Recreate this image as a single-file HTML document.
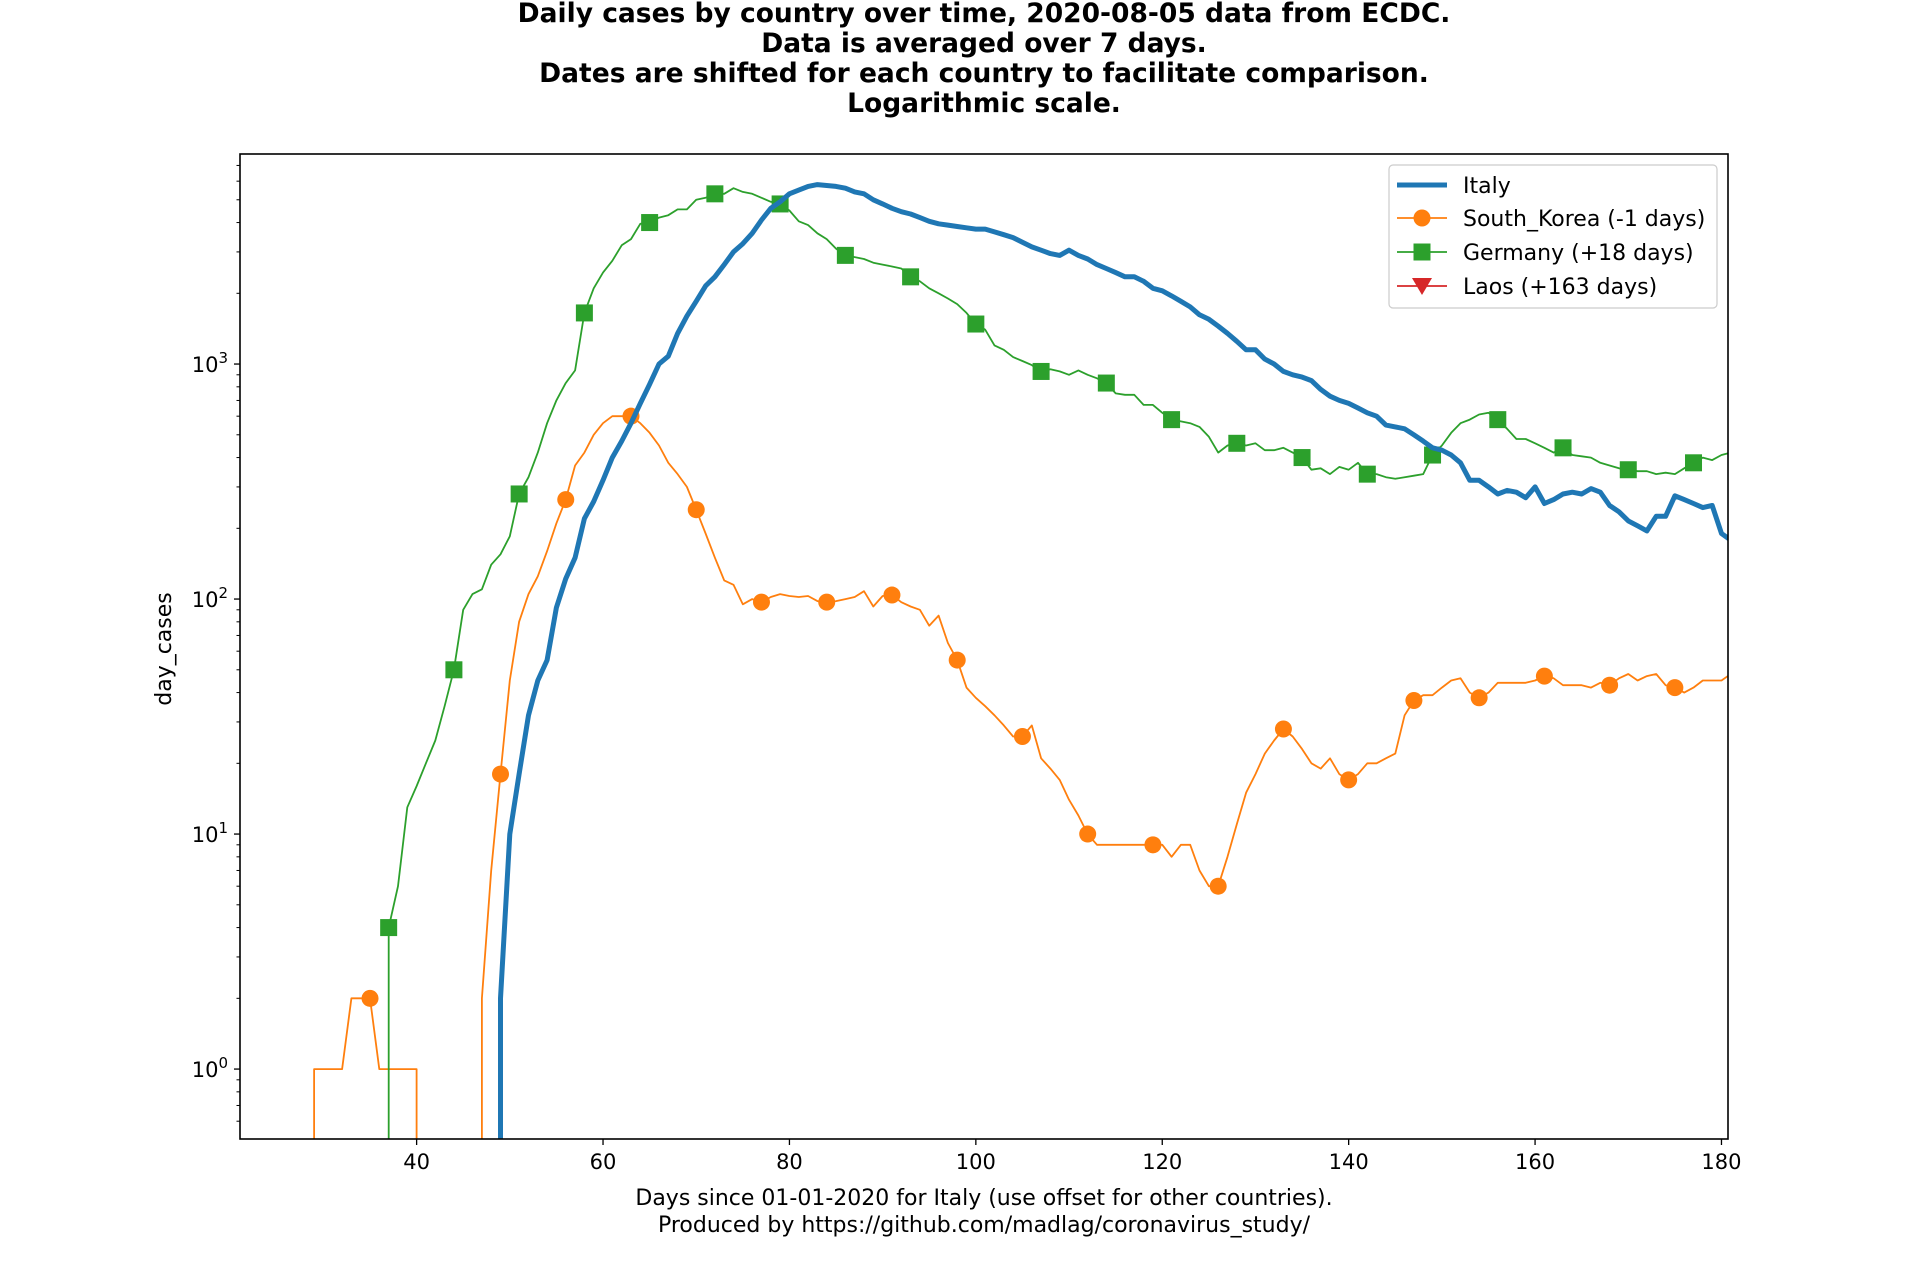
<!DOCTYPE html>
<html><head><meta charset="utf-8"><style>
html,body{margin:0;padding:0;background:#fff;width:1920px;height:1280px;overflow:hidden;}
svg{display:block;font-family:"DejaVu Sans","Liberation Sans",sans-serif;}
</style></head><body>
<svg id="chart" width="1920" height="1280" viewBox="0 0 1920 1280" xmlns="http://www.w3.org/2000/svg">
<defs><clipPath id="plotclip"><rect x="240" y="154" width="1488" height="985"/></clipPath></defs>
<g font-weight="bold" font-size="26.5" text-anchor="middle" fill="#000">
<text x="984" y="22">Daily cases by country over time, 2020-08-05 data from ECDC.</text>
<text x="984" y="52">Data is averaged over 7 days.</text>
<text x="984" y="82">Dates are shifted for each country to facilitate comparison.</text>
<text x="984" y="112">Logarithmic scale.</text>
</g>
<g id="series" clip-path="url(#plotclip)"></g>
<g id="axes"></g>
<rect x="240" y="154" width="1488" height="985" fill="none" stroke="#000" stroke-width="1.6"/>
<text x="984" y="1205" font-size="22" text-anchor="middle">Days since 01-01-2020 for Italy (use offset for other countries).</text>
<text x="984" y="1232" font-size="22" text-anchor="middle">Produced by https://github.com/madlag/coronavirus_study/</text>
<text x="0" y="0" font-size="22" text-anchor="middle" transform="translate(171,649) rotate(-90)">day_cases</text>
<g id="legend">
<rect x="1389" y="165" width="328" height="143" rx="4" fill="#fff" fill-opacity="0.8" stroke="#ccc" stroke-width="1.2"/>
</g>
</svg>
<script>
const italyStart = 48;
const italyValues = [0,2,10,18,32,45,55,92,122,150,220,260,320,400,470,560,680,820,1000,1080,1350,1600,1850,2150,2350,2650,3000,3250,3600,4100,4600,4900,5300,5500,5700,5800,5750,5700,5600,5400,5300,5000,4800,4600,4450,4350,4200,4050,3950,3900,3850,3800,3750,3750,3650,3550,3450,3300,3150,3050,2950,2900,3050,2900,2800,2650,2550,2450,2350,2350,2250,2100,2050,1950,1850,1750,1620,1550,1450,1350,1250,1150,1150,1050,1000,930,900,880,850,780,730,700,680,650,620,600,550,540,530,500,470,440,430,410,380,320,320,300,280,290,285,270,300,255,265,280,285,280,295,285,250,235,215,205,195,225,225,275,265,255,245,250,190,178];
const koreaStart = 28;
const koreaValues = [0,1,1,1,1,2,2,2,1,1,1,1,1,0,0,0,0,0,0,2,7,18,45,80,105,125,160,210,265,370,420,500,560,600,600,600,560,510,450,380,340,300,240,190,150,120,115,95,100,97,102,105,103,102,103,98,97,98,100,102,108,93,103,104,97,93,90,77,85,65,55,42,38,35,32,29,26,26,29,21,19,17,14,12,10,9,9,9,9,9,9,9,9,8,9,9,7,6,6,8,11,15,18,22,25,28,26,23,20,19,21,18,17,18,20,20,21,22,32,37,39,39,42,45,46,40,38,40,44,44,44,44,45,47,46,43,43,43,42,44,43,46,48,45,47,48,43,42,40,42,45,45,45,48,48];
const germanyStart = 36;
const germanyValues = [0,4,6,13,16,20,25,35,50,90,105,110,140,155,185,280,330,420,560,700,830,940,1650,2100,2450,2750,3200,3400,3950,4000,4200,4300,4550,4550,5000,5100,5300,5300,5600,5400,5300,5100,4900,4800,4500,4050,3900,3600,3400,3100,2900,2850,2800,2700,2650,2600,2550,2350,2250,2100,2000,1900,1800,1650,1480,1400,1200,1150,1070,1030,990,930,950,930,900,940,900,870,830,750,740,740,670,670,620,580,570,560,540,490,420,450,460,450,460,430,430,440,420,400,355,360,340,365,355,380,340,340,330,325,330,335,340,410,450,510,560,580,610,620,580,530,480,480,460,440,420,440,410,405,400,380,370,360,355,350,350,340,345,340,360,380,400,390,410,420];
const xTicks = [40,60,80,100,120,140,160,180];
const yTickExps = [0,1,2,3];
const legendLabels = ["Italy","South_Korea (-1 days)","Germany (+18 days)","Laos (+163 days)"];

const NS = "http://www.w3.org/2000/svg";
const X0 = 240, X1 = 1728, Y0 = 154, Y1 = 1139;
const dayMin = 21.05, dayMax = 180.7;
const logMin = Math.log10(0.504), logMax = Math.log10(7830);
function xScale(d){ return X0 + (d - dayMin) / (dayMax - dayMin) * (X1 - X0); }
function yScale(v){ if (v <= 0) return Y1 + 60; return Y1 - (Math.log10(v) - logMin) / (logMax - logMin) * (Y1 - Y0); }
function mk(tag, attrs, parent){ const e = document.createElementNS(NS, tag); for (const k in attrs) e.setAttribute(k, attrs[k]); parent.appendChild(e); return e; }

const series = document.getElementById("series");
const axes = document.getElementById("axes");

function pathFor(start, vals){
  let d = "";
  vals.forEach((v,i)=>{
    let day = start + i;
    if (v <= 0) {
      if (i+1 < vals.length && vals[i+1] > 0) day = start + i + 1;
      else if (i > 0 && vals[i-1] > 0) day = start + i - 1;
    }
    d += (i ? "L" : "M") + xScale(day).toFixed(1) + "," + yScale(v).toFixed(1);
  });
  return d;
}
function markerCircle(parent, x, y, color){ return mk("circle",{cx:x,cy:y,r:8.5,fill:color},parent); }
function markerSquare(parent, x, y, color){ return mk("rect",{x:x-8.5,y:y-8.5,width:17,height:17,fill:color},parent); }

const gK = mk("g",{},series);


mk("path",{d:pathFor(koreaStart,koreaValues),fill:"none",stroke:"#ff7f0e","stroke-width":1.8,"stroke-linejoin":"round"},gK);
koreaValues.forEach((v,i)=>{ const day = koreaStart+i; if ((day-35)%7===0 && v>0){ const m = markerCircle(gK, xScale(day), yScale(v), "#ff7f0e");

 } });

const gG = mk("g",{},series);


mk("path",{d:pathFor(germanyStart,germanyValues),fill:"none",stroke:"#2ca02c","stroke-width":1.8,"stroke-linejoin":"round"},gG);
germanyValues.forEach((v,i)=>{ const day = germanyStart+i; if ((day-37)%7===0 && v>0){ const m = markerSquare(gG, xScale(day), yScale(v), "#2ca02c");

 } });

const gI = mk("g",{},series);


mk("path",{d:pathFor(italyStart,italyValues),fill:"none",stroke:"#1f77b4","stroke-width":5,"stroke-linejoin":"round"},gI);

xTicks.forEach(t=>{
  const x = xScale(t);
  const tk = mk("line",{x1:x,x2:x,y1:Y1,y2:Y1+6,stroke:"#000","stroke-width":1.3},axes);
  
  
  const lb = mk("text",{x:x,y:Y1+30,"font-size":21,"text-anchor":"middle"},axes);
  lb.textContent = String(t);
  
  
});
yTickExps.forEach(e=>{
  const y = yScale(Math.pow(10,e));
  const tk = mk("line",{x1:X0-6,x2:X0,y1:y,y2:y,stroke:"#000","stroke-width":1.3},axes);
  
  
  const lb = mk("text",{x:X0-12,y:y+8,"font-size":21,"text-anchor":"end"},axes);
  
  
  lb.appendChild(document.createTextNode("10"));
  const sup = mk("tspan",{dy:-9,"font-size":15},lb);
  sup.textContent = String(e);
});
for (let e=-1;e<=3;e++){ for (let m=2;m<=9;m++){ const v=m*Math.pow(10,e); const y=yScale(v); if (y>=Y0 && y<=Y1){ const tk = mk("line",{x1:X0-3.5,x2:X0,y1:y,y2:y,stroke:"#000","stroke-width":1},axes);

 } } }

const lg = document.getElementById("legend");
const colors = ["#1f77b4","#ff7f0e","#2ca02c","#d62728"];
const rowsY = [185,218,252,286];
legendLabels.forEach((lab,i)=>{
  const g = mk("g",{},lg);
  
  
  const y = rowsY[i];
  mk("line",{x1:1397,x2:1447,y1:y,y2:y,stroke:colors[i],"stroke-width":i===0?5:1.8},g);
  if (i===1) markerCircle(g,1422,y,colors[i]);
  if (i===2) markerSquare(g,1422,y,colors[i]);
  if (i===3) mk("polygon",{points:`1412,${y-8} 1432,${y-8} 1422,${y+9}`,fill:colors[i]},g);
  const t = mk("text",{x:1463,y:y+8,"font-size":22},g);
  t.textContent = lab;
});
</script>
</body></html>
